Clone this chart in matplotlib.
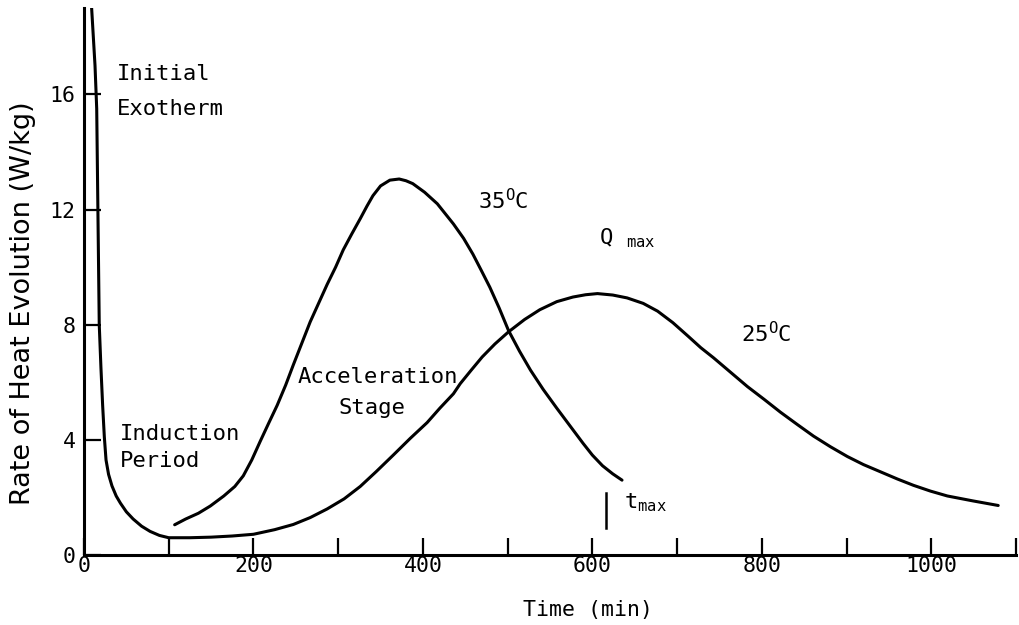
import matplotlib
matplotlib.use("Agg")
import matplotlib.pyplot as plt

# --- fontes: estilo "plotter" monoespa칞ado ---
plt.rcParams["font.family"] = ["DejaVu Sans Mono", "DejaVu Sans"]
plt.rcParams["mathtext.fontset"] = "custom"
plt.rcParams["mathtext.rm"] = "DejaVu Sans Mono"
plt.rcParams["mathtext.it"] = "DejaVu Sans Mono"

# --- dados ---
# curva 25 C (inclui o pico inicial / exotherm e o periodo de inducao)
t25 = [6, 10, 13, 15, 16, 17, 18, 20, 22, 24, 26, 29, 33, 38, 43, 50, 58,
       68, 78, 89, 100, 125, 150, 175, 200, 225, 247, 267, 287, 307, 326,
       345, 365, 385, 405, 420, 436, 444, 457, 470, 485, 501, 520, 538, 558,
       577, 592, 606, 624, 641, 660, 677, 695, 713, 728, 743, 763, 783, 803,
       822, 842, 861, 881, 901, 920, 940, 960, 979, 999, 1019, 1049, 1079]
q25 = [20.5, 18.5, 17.0, 15.5, 13.0, 10.5, 8.0, 6.5, 5.2, 4.1, 3.3, 2.8, 2.4,
       2.05, 1.8, 1.5, 1.25, 1.0, 0.82, 0.68, 0.6, 0.6, 0.62, 0.66, 0.72,
       0.88, 1.06, 1.3, 1.6, 1.95, 2.38, 2.9, 3.47, 4.05, 4.6, 5.1, 5.6,
       5.95, 6.42, 6.88, 7.33, 7.75, 8.18, 8.52, 8.8, 8.96, 9.04, 9.08, 9.03,
       8.93, 8.74, 8.47, 8.07, 7.6, 7.2, 6.85, 6.35, 5.85, 5.4, 4.96, 4.53,
       4.13, 3.76, 3.42, 3.14, 2.89, 2.64, 2.42, 2.22, 2.05, 1.88, 1.72]

# curva 35 C
t35 = [107, 120, 135, 149, 165, 178, 188, 198, 208, 218, 228, 238, 247, 257,
       267, 277, 287, 297, 306, 316, 326, 334, 341, 350, 361, 372, 380, 388,
       402, 417, 436, 448, 459, 469, 479, 490, 501, 514, 527, 542, 558, 574,
       589, 600, 612, 624, 635]
q35 = [1.05, 1.25, 1.45, 1.7, 2.05, 2.38, 2.75, 3.3, 3.95, 4.58, 5.2, 5.9,
       6.6, 7.35, 8.1, 8.75, 9.4, 10.0, 10.6, 11.15, 11.68, 12.12, 12.48,
       12.82, 13.02, 13.06, 13.0, 12.9, 12.6, 12.2, 11.5, 11.0, 10.45, 9.88,
       9.3, 8.58, 7.8, 7.08, 6.42, 5.75, 5.1, 4.47, 3.88, 3.47, 3.1, 2.82,
       2.6]

# marcador t_max (tempo do pico a 25 C)
t_max = 616
t_max_span = [0.93, 2.15]

x_ticks = list(range(0, 1101, 100))
x_labels = [str(v) if v % 200 == 0 and v <= 1000 else "" for v in x_ticks]
y_ticks = [0, 4, 8, 12, 16]

# --- figura ---
fig = plt.figure(figsize=(10.19, 6.25), dpi=100)
ax = fig.add_axes([84 / 1019, 1 - 555 / 625, 932 / 1019, 547 / 625])

lw = 2.2
ax.plot(t25, q25, color="black", lw=lw, solid_capstyle="round",
        solid_joinstyle="round")
ax.plot(t35, q35, color="black", lw=lw, solid_capstyle="round",
        solid_joinstyle="round")
ax.plot([t_max, t_max], t_max_span, color="black", lw=1.8)

ax.set_xlim(0, 1100)
ax.set_ylim(0, 19)

# eixos: so esquerda e baixo
for s in ["top", "right"]:
    ax.spines[s].set_visible(False)
for s in ["left", "bottom"]:
    ax.spines[s].set_linewidth(lw)

ax.set_xticks(x_ticks)
ax.set_xticklabels(x_labels)
ax.set_yticks(y_ticks)
ax.tick_params(axis="x", direction="in", length=12, width=1.6, pad=1,
               labelsize=15.5)
ax.tick_params(axis="y", direction="in", length=12, width=1.6, pad=6,
               labelsize=15.5)

# rotulos dos eixos (posicionados em pixels da figura)
fig.text(588 / 1019, 1 - 610 / 625, "Time (min)", fontsize=15.5,
         ha="center", va="center")
fig.text(23 / 1019, 1 - 303 / 625, "Rate of Heat Evolution (W/kg)",
         fontsize=19.5, family="DejaVu Sans", rotation=90,
         ha="center", va="center")

# --- textos ---
fs = 16
ax.text(39, 16.7, "Initial", fontsize=fs, va="center")
ax.text(39, 15.5, "Exotherm", fontsize=fs, va="center")
ax.text(42, 4.2, "Induction", fontsize=fs, va="center")
ax.text(42, 3.25, "Period", fontsize=fs, va="center")
ax.text(347, 6.2, "Acceleration", fontsize=fs, va="center", ha="center")
ax.text(340, 5.1, "Stage", fontsize=fs, va="center", ha="center")
ax.text(465, 12.3, r"35$^{\mathrm{O}}$C", fontsize=fs, va="center")
ax.text(775, 7.68, r"25$^{\mathrm{O}}$C", fontsize=fs, va="center")
ax.text(608, 11.0, r"Q $_{\mathrm{max}}$", fontsize=fs, va="center")
ax.text(637, 1.8, r"t$_{\mathrm{max}}$", fontsize=fs, va="center")

fig.savefig("out.png", dpi=100)
